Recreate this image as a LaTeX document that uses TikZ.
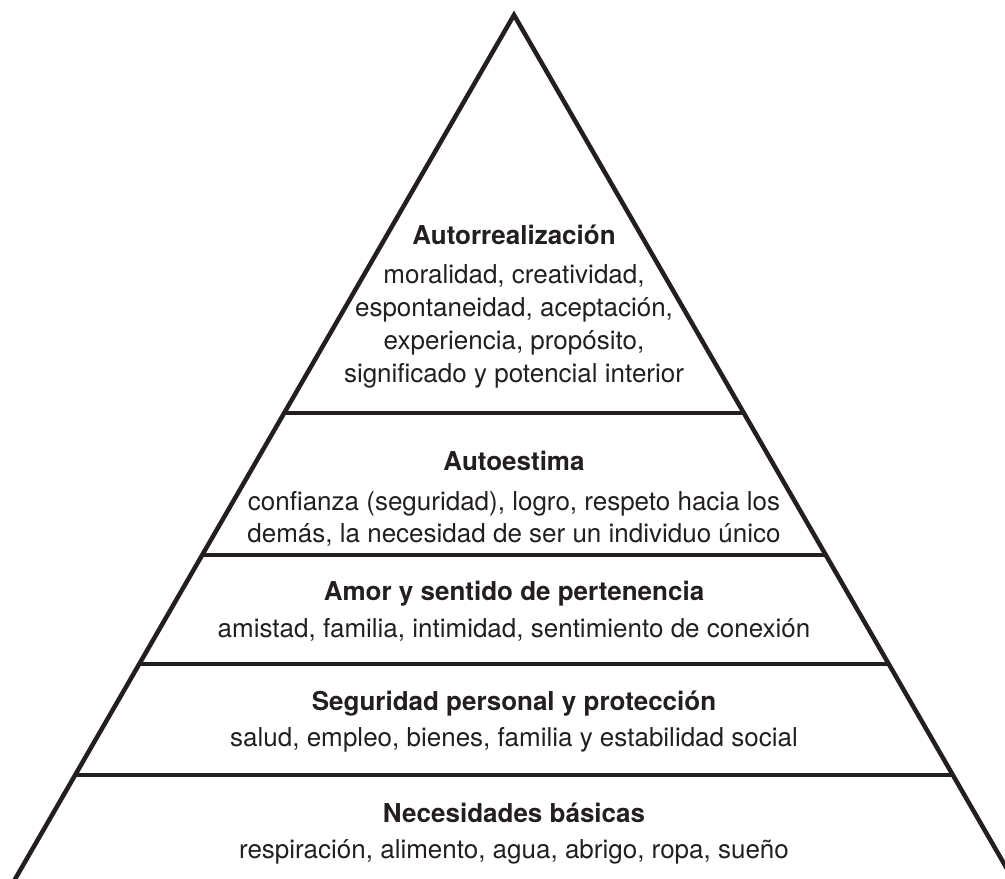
\documentclass[tikz,border=0pt]{standalone}
\usepackage{fontspec}
\setmainfont{TeX Gyre Heros}
\definecolor{ink}{HTML}{231F20}
\begin{document}
\begin{tikzpicture}[x=1pt,y=-1pt,
  edge/.style={draw=ink,line width=4.5pt,line join=miter},
  tiertitle/.style={anchor=base,inner sep=0pt,text=ink,font=\fontsize{26}{32}\selectfont\bfseries},
  tiertext/.style={anchor=base,inner sep=0pt,text=ink,font=\fontsize{26}{32}\selectfont}]
\useasboundingbox (0,0) rectangle (1005,879);
\clip (0,0) rectangle (1005,879);
% outline of the pyramid
\coordinate (apex) at (514,15);
\coordinate (bl) at (3,900);
\coordinate (br) at (1025,900);
\draw[edge] (bl) -- (apex) -- (br);
% dividing lines between the levels
\coordinate (l1) at (284.2,413); \coordinate (r1) at (743.8,413);
\coordinate (l2) at (202.1,555); \coordinate (r2) at (825.9,555);
\coordinate (l3) at (139.2,664); \coordinate (r3) at (888.8,664);
\coordinate (l4) at (75.1,775);  \coordinate (r4) at (952.9,775);
\draw[edge] (l1) -- (r1);
\draw[edge] (l2) -- (r2);
\draw[edge] (l3) -- (r3);
\draw[edge] (l4) -- (r4);
% level 5
\node[tiertitle] (t5) at (514,244) {Autorrealización};
\node[tiertext] (a5) at (514,283) {moralidad, creatividad,};
\node[tiertext] (b5) at (514,316) {espontaneidad, aceptación,};
\node[tiertext] (c5) at (514,349) {experiencia, propósito,};
\node[tiertext] (d5) at (514,382) {significado y potencial interior};
% level 4
\node[tiertitle] (t4) at (514,470) {Autoestima};
\node[tiertext] (a4) at (514,510) {confianza (seguridad), logro, respeto hacia los};
\node[tiertext] (b4) at (514,542) {demás, la necesidad de ser un individuo único};
% level 3
\node[tiertitle] (t3) at (514,600) {Amor y sentido de pertenencia};
\node[tiertext] (a3) at (514,637) {amistad, familia, intimidad, sentimiento de conexión};
% level 2
\node[tiertitle] (t2) at (514,710) {Seguridad personal y protección};
\node[tiertext] (a2) at (514,746) {salud, empleo, bienes, familia y estabilidad social};
% level 1
\node[tiertitle] (t1) at (514,822) {Necesidades básicas};
\node[tiertext] (a1) at (514,858) {respiración, alimento, agua, abrigo, ropa, sueño};
\end{tikzpicture}
\end{document}
